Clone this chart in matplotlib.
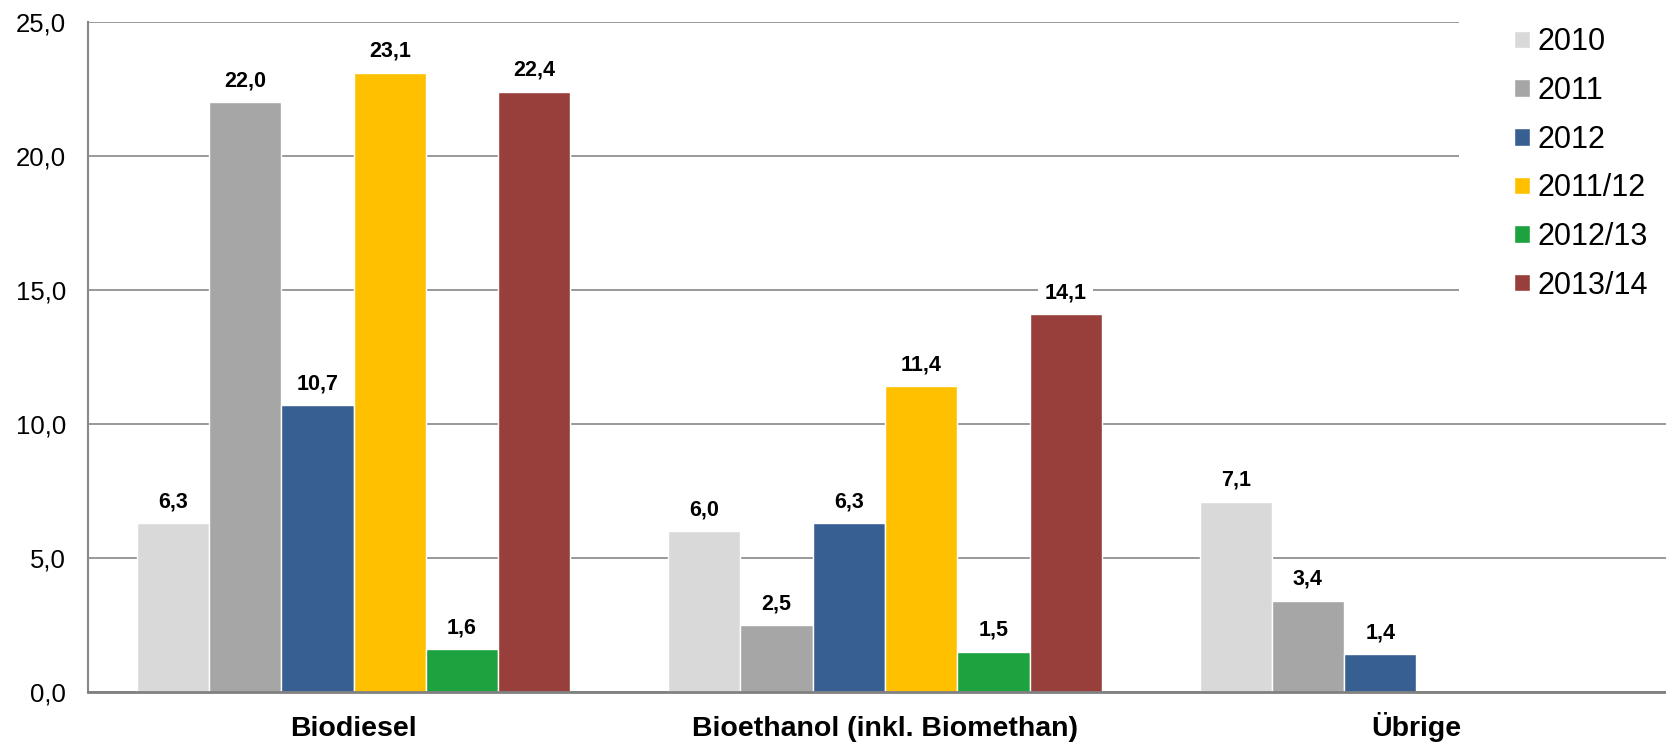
import numpy as np
import matplotlib.pyplot as plt
from matplotlib.patches import Rectangle

plt.rcParams['font.family'] = ['Liberation Sans', 'DejaVu Sans']

categories = ['Biodiesel', 'Bioethanol (inkl. Biomethan)', 'Übrige']
series = ['2010', '2011', '2012', '2011/12', '2012/13', '2013/14']
values = {
    '2010':    [6.3, 6.0, 7.1],
    '2011':    [22.0, 2.5, 3.4],
    '2012':    [10.7, 6.3, 1.4],
    '2011/12': [23.1, 11.4, np.nan],
    '2012/13': [1.6, 1.5, np.nan],
    '2013/14': [22.4, 14.1, np.nan],
}
colors = ['#D9D9D9', '#A6A6A6', '#375F92', '#FFC000', '#1CA23E', '#983F3B']
yticks = [0, 5, 10, 15, 20, 25]

fig = plt.figure(figsize=(16.66, 7.43), dpi=100)
ax = fig.add_axes([88 / 1666, 1 - 692 / 743, 1594 / 1666, 670 / 743])

x = np.arange(len(categories))
w = 0.136
for i, s in enumerate(series):
    pos = x + (i - 2.5) * w
    vals = np.array(values[s])
    ax.bar(pos, vals, width=w, color=colors[i], edgecolor='white',
           linewidth=1, label=s, zorder=3)
    for px, v in zip(pos, vals):
        if np.isnan(v):
            continue
        ax.annotate(f'{v:.1f}'.replace('.', ','), (px, v), xytext=(0, 11.5),
                    textcoords='offset points', ha='center', va='baseline',
                    fontsize=15.5, fontweight='bold', zorder=4,
                    bbox=dict(boxstyle='square,pad=0.3', fc='white', ec='none'))

ax.set_xlim(-0.5, 2.5)
ax.set_ylim(0, 25)
ax.set_yticks(yticks)
ax.set_yticklabels([f'{t:.1f}'.replace('.', ',') for t in yticks], fontsize=18.5)
ax.set_xticks(x)
ax.set_xticklabels(categories, fontsize=20.5, fontweight='bold')
for lbl in ax.get_xticklabels():
    lbl.set_verticalalignment('baseline')
ax.tick_params(axis='y', length=0, pad=16)
ax.tick_params(axis='x', length=0, pad=32)
ax.grid(axis='y', color='#888888', linewidth=1.2, zorder=0)
for side in ['top', 'right']:
    ax.spines[side].set_visible(False)
ax.spines['left'].set_color('#888888')
ax.spines['left'].set_linewidth(1.5)
ax.spines['bottom'].set_color('#808080')
ax.spines['bottom'].set_linewidth(2)
ax.spines['bottom'].set_zorder(5)

# white panel behind the legend
fig.patches.append(Rectangle((1459 / 1666, 1 - 310 / 743), 1, 310 / 743,
                             transform=fig.transFigure, fc='white', ec='none',
                             zorder=2))
handles, labels = ax.get_legend_handles_labels()
leg = fig.legend(handles, labels, loc='upper left',
                 bbox_to_anchor=(1493 / 1666, 1 - 6 / 743), frameon=False,
                 fontsize=22, handlelength=0.5, handleheight=0.5,
                 handletextpad=0.25, labelspacing=0.61, borderpad=0.2)
leg.set_zorder(6)

fig.savefig('out.png', dpi=100)
